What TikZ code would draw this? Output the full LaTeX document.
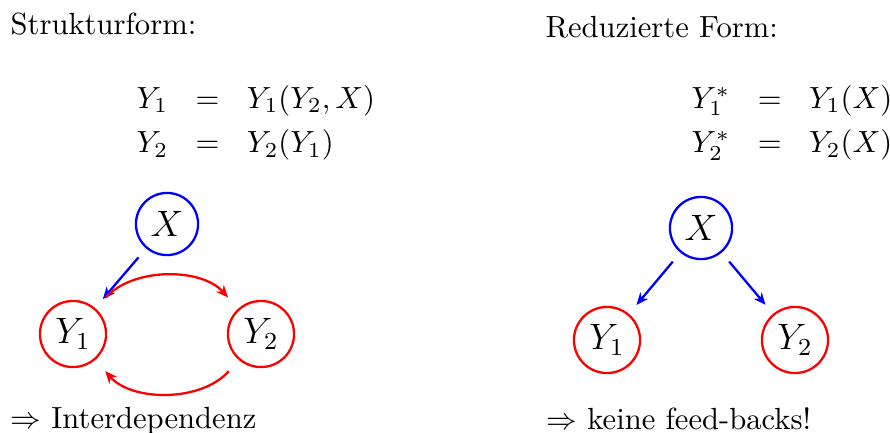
\documentclass[tikz,border=0pt]{standalone}
\usetikzlibrary{arrows.meta}
\begin{document}
\begin{tikzpicture}[x=0.3268pt,y=-0.3268pt]
\tikzset{
  vnode/.style={circle, draw, line width=0.75pt, inner sep=0pt, text=black,
                font=\large},
  xnode/.style={vnode, draw=blue, minimum size=20.3pt},
  ynode/.style={vnode, draw=red, minimum size=21.6pt},
  tip/.style={-{Stealth[length=4pt,width=3.4pt,inset=1.3pt]}, line width=0.75pt},
  blarr/.style={tip, blue, shorten <=3.8pt, shorten >=3.8pt},
  rdarr/.style={tip, red, shorten <=4.9pt, shorten >=4.9pt},
  lbl/.style={inner sep=0pt, anchor=base west},
  eqs/.style={inner sep=0pt, anchor=north west}
}
\useasboundingbox (0,0) rectangle (890,432);

% left part
\node[lbl] (tstruct) at (10,34) {Strukturform:};
\node[eqs] (eqleft) at (136,82)
  {$\begin{array}{@{}r@{\hspace{9pt}}c@{\hspace{9pt}}l@{}}
     Y_1 & = & Y_1(Y_2,X)\\[2.5pt]
     Y_2 & = & Y_2(Y_1)
   \end{array}$};
\node[xnode] (lX) at (167,224) {$X$};
\node[ynode] (lY1) at (73,334) {$Y_1$};
\node[ynode] (lY2) at (261,334) {$Y_2$};
\draw[blarr] (lX) -- (lY1);
\draw[rdarr] (lY1) to[bend left=48] (lY2);
\draw[rdarr] (lY2) to[bend left=49] (lY1);
\node[lbl] (tinter) at (10,428) {$\Rightarrow$ Interdependenz};

% right part
\node[lbl] (tred) at (545,37) {Reduzierte Form:};
\node[eqs] (eqright) at (691,82)
  {$\begin{array}{@{}r@{\hspace{9pt}}c@{\hspace{9pt}}l@{}}
     Y_1^* & = & Y_1(X)\\[2.5pt]
     Y_2^* & = & Y_2(X)
   \end{array}$};
\node[xnode] (rX) at (701,228) {$X$};
\node[ynode] (rY1) at (607,340) {$Y_1$};
\node[ynode] (rY2) at (795,340) {$Y_2$};
\draw[blarr] (rX) -- (rY1);
\draw[blarr] (rX) -- (rY2);
\node[lbl] (tfeed) at (546,429) {$\Rightarrow$ keine feed-backs!};
\end{tikzpicture}
\end{document}
